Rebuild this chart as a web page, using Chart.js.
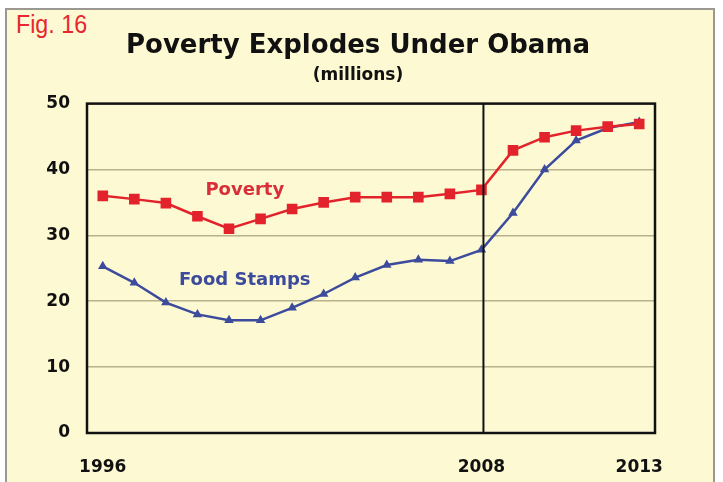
<!DOCTYPE html>
<html>
<head>
<meta charset="utf-8">
<script src="https://cdn.jsdelivr.net/npm/chart.js@4.4.1/dist/chart.umd.min.js"></script>
<style>
  body { margin: 0; background: #ffffff; }
  #wrap { position: relative; width: 723px; height: 482px; overflow: hidden; }
  #frame { position: absolute; left: 5px; top: 8px; width: 706px; height: 480px;
           border: 2px solid #9a9890; background: #fdf9d2; }
  #fig { position: absolute; left: 16px; top: 10px; color: #e8262e;
         font: 25px "Liberation Sans", Arial, sans-serif;
         transform: scaleX(0.93); transform-origin: left top; }
  canvas { position: absolute; left: 0; top: 0; }
</style>
</head>
<body>
<div id="wrap">
  <div id="frame"></div>
  <div id="fig">Fig. 16</div>
  <canvas id="chart" width="723" height="482"></canvas>
</div>
<script>
const years = ["1996","1997","1998","1999","2000","2001","2002","2003","2004",
  "2005","2006","2007","2008","2009","2010","2011","2012","2013"];
const shownYears = ["1996", "2008", "2013"];
// millions of people
const poverty = [36.0, 35.5, 34.9, 32.9, 31.0, 32.5, 34.0, 35.0, 35.8,
  35.8, 35.8, 36.3, 36.9, 42.9, 44.9, 45.9, 46.5, 46.9];
const foodStamps = [25.3, 22.8, 19.8, 18.0, 17.1, 17.1, 19.0, 21.1, 23.6,
  25.5, 26.3, 26.1, 27.8, 33.4, 40.0, 44.4, 46.3, 47.2];
const yTicks = [0, 10, 20, 30, 40, 50];

const redColor = "#e3232c";
const blueColor = "#3c4b9c";
const fontFamily = "'DejaVu Sans', Verdana, sans-serif";

// frame around the plot + the 2008 marker line + series labels
const decorations = {
  id: "decorations",
  afterDraw(chart) {
    const { ctx, chartArea: a, scales: { x, y } } = chart;
    ctx.save();
    ctx.strokeStyle = "#111111";
    ctx.lineWidth = 2.5;
    ctx.strokeRect(a.left, a.top, a.right - a.left, a.bottom - a.top);
    const xx = x.getPixelForValue(years.indexOf("2008")) + 2;
    ctx.lineWidth = 2;
    ctx.beginPath();
    ctx.moveTo(xx, a.top);
    ctx.lineTo(xx, a.bottom);
    ctx.stroke();

    ctx.font = "bold 18px " + fontFamily;
    ctx.textAlign = "center";
    ctx.textBaseline = "middle";
    ctx.fillStyle = "#d8303a";
    ctx.fillText("Poverty", x.getPixelForValue(4.5), y.getPixelForValue(36.9));
    ctx.fillStyle = blueColor;
    ctx.fillText("Food Stamps", x.getPixelForValue(4.5), y.getPixelForValue(23.1));
    ctx.restore();
  }
};

new Chart(document.getElementById("chart"), {
  type: "line",
  plugins: [decorations],
  data: {
    labels: years,
    datasets: [
      {
        label: "Poverty",
        data: poverty,
        borderColor: redColor,
        backgroundColor: redColor,
        borderWidth: 2.5,
        pointStyle: "rect",
        pointRadius: 7.5,
        pointBorderWidth: 0,
        tension: 0
      },
      {
        label: "Food Stamps",
        data: foodStamps,
        borderColor: blueColor,
        backgroundColor: blueColor,
        borderWidth: 2.5,
        pointStyle: "triangle",
        pointRadius: 5.5,
        pointBorderWidth: 0,
        tension: 0
      }
    ]
  },
  options: {
    responsive: false,
    animation: false,
    layout: { padding: { left: 0, right: 7, top: 0, bottom: 0 } },
    plugins: {
      legend: { display: false },
      tooltip: { enabled: false },
      title: {
        display: true,
        text: "Poverty Explodes Under Obama",
        color: "#111111",
        font: { family: fontFamily, size: 26, weight: "bold" },
        padding: { top: 31, bottom: 2 }
      },
      subtitle: {
        display: true,
        text: "(millions)",
        color: "#111111",
        font: { family: fontFamily, size: 17, weight: "bold" },
        padding: { top: 1, bottom: 18 }
      }
    },
    scales: {
      x: {
        offset: true,
        grid: { display: false, drawTicks: false },
        border: { display: false },
        afterFit: s => { s.height = 49; },
        ticks: {
          autoSkip: false,
          maxRotation: 0,
          padding: 24,
          color: "#111111",
          font: { family: fontFamily, size: 17, weight: "bold" },
          callback: (v, i) => shownYears.includes(years[i]) ? years[i] : ""
        }
      },
      y: {
        min: 0,
        max: 50,
        afterBuildTicks: s => { s.ticks = yTicks.map(v => ({ value: v })); },
        afterFit: s => { s.width = 87; },
        grid: { color: "#b8b28c", lineWidth: 1.5, drawTicks: false },
        border: { display: false },
        ticks: {
          padding: 17,
          color: "#111111",
          font: { family: fontFamily, size: 17, weight: "bold" }
        }
      },
      // empty right-hand axis, only keeps the plot clear of the right edge
      yRight: {
        position: "right",
        min: 0,
        max: 50,
        afterFit: s => { s.width = 61; },
        grid: { display: false, drawTicks: false },
        border: { display: false },
        ticks: { display: false }
      }
    }
  }
});
</script>
</body>
</html>
